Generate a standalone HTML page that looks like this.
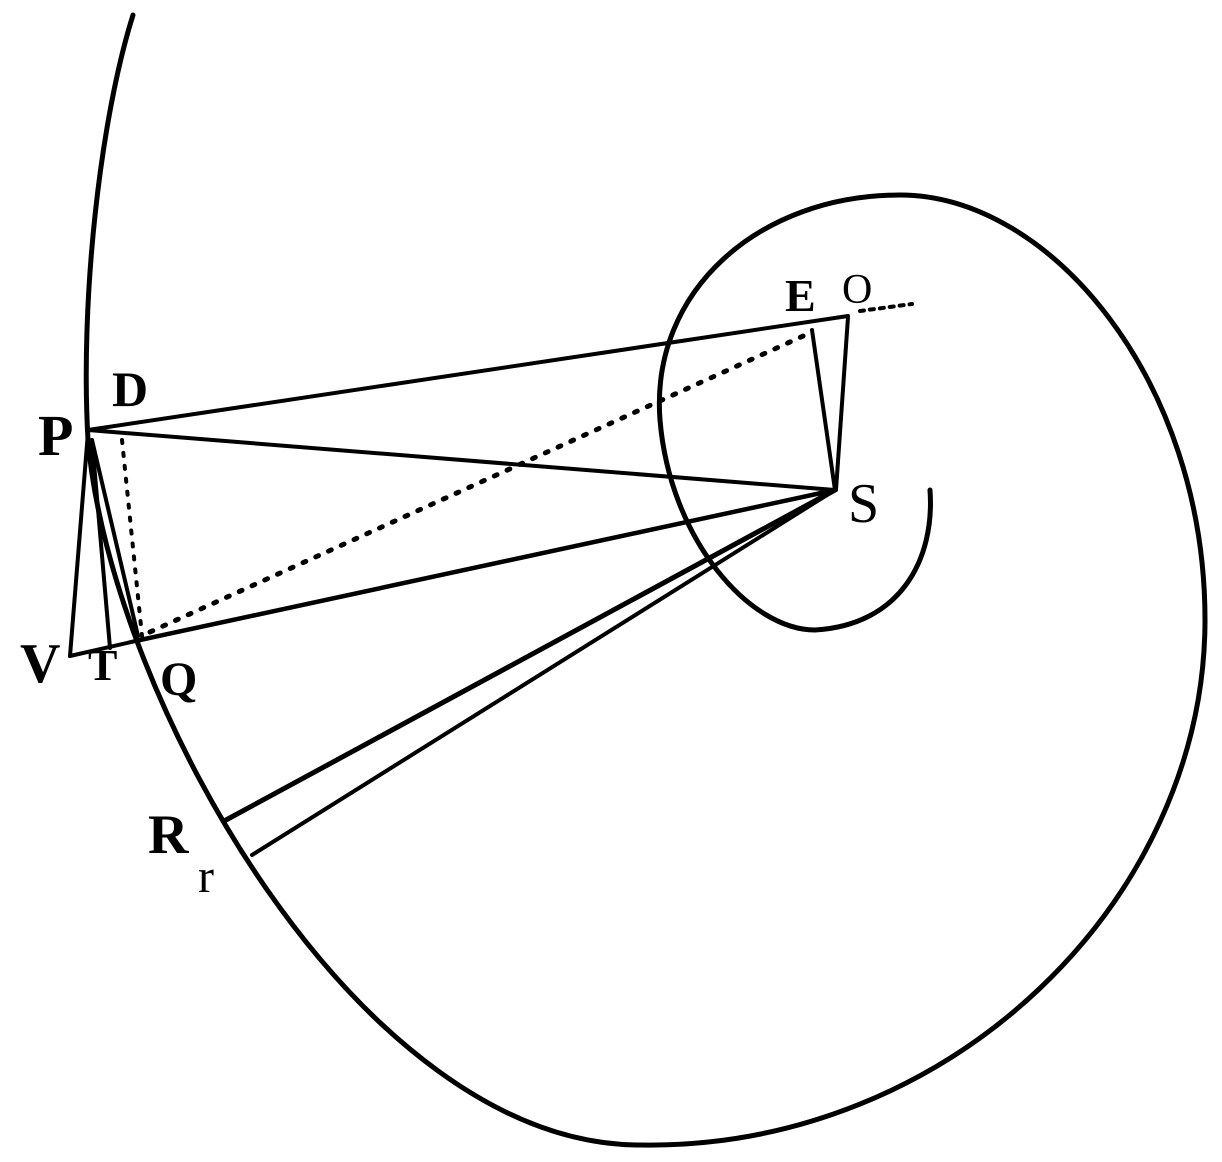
<!DOCTYPE html>
<html><head><meta charset="utf-8"><style>html,body{margin:0;padding:0;background:#fff;}svg{display:block}</style></head>
<body>
<svg width="1222" height="1162" viewBox="0 0 1222 1162" xmlns="http://www.w3.org/2000/svg">
<g fill="none" stroke="#000" stroke-linecap="round">
<path d="M133,15 C100,120 80,300 88,440 C110,700 360,1145 640,1145 C950,1150 1205,900 1205,620 C1205,380 1050,195 900,195 C760,195 650,290 660,420 C670,540 750,630 815,630 C900,625 935,560 930,490" stroke-width="5"/>
<line x1="88" y1="430" x2="848" y2="316" stroke-width="4"/>
<line x1="88" y1="430" x2="835" y2="490" stroke-width="4"/>
<line x1="140" y1="640" x2="835" y2="490" stroke-width="4.5"/>
<line x1="226" y1="820" x2="835" y2="490" stroke-width="5"/>
<line x1="252" y1="855" x2="835" y2="490" stroke-width="4"/>
<line x1="812" y1="330" x2="835" y2="490" stroke-width="4"/>
<line x1="848" y1="317" x2="836" y2="490" stroke-width="4"/>
<line x1="88" y1="432" x2="70" y2="656" stroke-width="4"/>
<line x1="70" y1="656" x2="140" y2="640" stroke-width="4"/>
<line x1="92" y1="440" x2="110" y2="648" stroke-width="4"/>
<line x1="92" y1="440" x2="138" y2="636" stroke-width="4"/>
<line x1="122" y1="440" x2="142" y2="636" stroke-width="4" stroke-dasharray="3,10"/>
<line x1="150" y1="632" x2="812" y2="332" stroke-width="5" stroke-dasharray="3,11"/>
<line x1="860" y1="311" x2="912" y2="304" stroke-width="4" stroke-dasharray="4,6"/>
</g>
<g font-family="Liberation Serif, serif" font-weight="bold" fill="#000">
<text x="38" y="455" font-size="58">P</text>
<text x="112" y="406" font-size="50">D</text>
<text x="20" y="682" font-size="56">V</text>
<text x="88" y="680" font-size="44">T</text>
<text x="160" y="695" font-size="48">Q</text>
<text x="785" y="311" font-size="46">E</text>
<text x="842" y="303" font-size="42" font-weight="normal">O</text>
<text x="848" y="522" font-size="56" font-weight="normal">S</text>
<text x="148" y="853" font-size="56">R</text>
<text x="198" y="892" font-size="48" font-weight="normal">r</text>
</g>
</svg>
</body></html>
